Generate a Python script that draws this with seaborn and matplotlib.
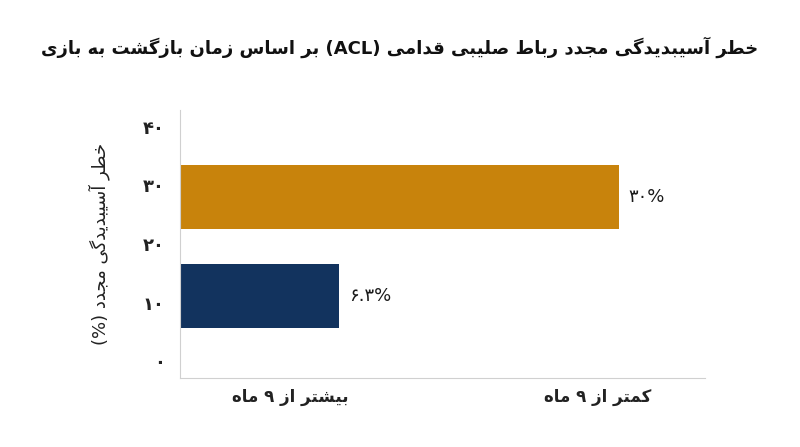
import re
import numpy as np
import pandas as pd
import matplotlib
matplotlib.use('Agg')
import matplotlib.pyplot as plt
import seaborn as sns

# data
categories = ['کمتر از ۹ ماه', 'بیشتر از ۹ ماه']
values = [30, 6.3]
value_labels = ['۳۰%', '۶.۳%']
bar_colors = ['#C8830C', '#12335E']
y_ticks = [0, 10, 20, 30, 40]
y_tick_labels = ['۰', '۱۰', '۲۰', '۳۰', '۴۰']
title = 'خطر آسیبدیدگی مجدد رباط صلیبی قدامی (ACL) بر اساس زمان بازگشت به بازی'
y_title = 'خطر آسیبدیدگی مجدد (%)'

# small persian shaper (matplotlib has no text shaping)
FORMS = {  # isolated, final, initial, medial
    'ا': ('\uFE8D', '\uFE8E', None, None),
    'آ': ('\uFE81', '\uFE82', None, None),
    'ب': ('\uFE8F', '\uFE90', '\uFE91', '\uFE92'),
    'ت': ('\uFE95', '\uFE96', '\uFE97', '\uFE98'),
    'ج': ('\uFE9D', '\uFE9E', '\uFE9F', '\uFEA0'),
    'خ': ('\uFEA5', '\uFEA6', '\uFEA7', '\uFEA8'),
    'د': ('\uFEA9', '\uFEAA', None, None),
    'ر': ('\uFEAD', '\uFEAE', None, None),
    'ز': ('\uFEAF', '\uFEB0', None, None),
    'س': ('\uFEB1', '\uFEB2', '\uFEB3', '\uFEB4'),
    'ش': ('\uFEB5', '\uFEB6', '\uFEB7', '\uFEB8'),
    'ص': ('\uFEB9', '\uFEBA', '\uFEBB', '\uFEBC'),
    'ط': ('\uFEC1', '\uFEC2', '\uFEC3', '\uFEC4'),
    'ق': ('\uFED5', '\uFED6', '\uFED7', '\uFED8'),
    'ل': ('\uFEDD', '\uFEDE', '\uFEDF', '\uFEE0'),
    'م': ('\uFEE1', '\uFEE2', '\uFEE3', '\uFEE4'),
    'ن': ('\uFEE5', '\uFEE6', '\uFEE7', '\uFEE8'),
    'ه': ('\uFEE9', '\uFEEA', '\uFEEB', '\uFEEC'),
    'و': ('\uFEED', '\uFEEE', None, None),
    'ی': ('\uFBFC', '\uFBFD', '\uFBFE', '\uFBFF'),
    'ک': ('\uFB8E', '\uFB8F', '\uFB90', '\uFB91'),
    'گ': ('\uFB92', '\uFB93', '\uFB94', '\uFB95'),
}
MIRROR = {'(': ')', ')': '('}


def shape(text):
    out = []
    for i, ch in enumerate(text):
        if ch not in FORMS:
            out.append(ch)
            continue
        prev = text[i - 1] if i > 0 else ''
        nxt = text[i + 1] if i < len(text) - 1 else ''
        join_prev = prev in FORMS and FORMS[prev][2] is not None
        join_next = FORMS[ch][2] is not None and nxt in FORMS
        iso, fin, ini, med = FORMS[ch]
        if join_prev and join_next:
            out.append(med)
        elif join_prev:
            out.append(fin)
        elif join_next:
            out.append(ini)
        else:
            out.append(iso)
    return ''.join(out)


def fa(text):
    s = shape(text)
    runs = re.findall(r'[A-Za-z0-9۰-۹.%]+|[^A-Za-z0-9۰-۹.%]+', s)
    res = []
    for r in reversed(runs):
        if re.match(r'[A-Za-z0-9۰-۹.%]', r):
            res.append(r)
        else:
            res.append(''.join(MIRROR.get(c, c) for c in reversed(r)))
    return ''.join(res)


plt.rcParams['font.family'] = ['DejaVu Sans']

df = pd.DataFrame({'category': categories, 'value': values})

fig = plt.figure(figsize=(8, 4.47), dpi=100)
ax = fig.add_axes([180 / 800, 1 - 378 / 447, 525 / 800, 268 / 447])

sns.barplot(data=df, x='value', y='category', hue='category', palette=bar_colors,
            orient='h', width=0.64, saturation=1, legend=False, ax=ax)

# power scale for the bar lengths
ax.set_xscale('function', functions=(lambda v: np.power(np.clip(v, 0, None), 0.65),
                                     lambda v: np.power(np.clip(v, 0, None), 1 / 0.65)))
ax.set_xlim(0, 39.5)
ax.set_ylim(1.828, -0.879)
ax.set_xticks([])
ax.set_yticks([])
ax.set_xlabel('')
ax.set_ylabel('')

for cont, lab in zip(ax.containers, value_labels):
    ax.bar_label(cont, labels=[lab], padding=7, fontsize=13, color='#1a1a1a')

for sp in ['top', 'right']:
    ax.spines[sp].set_visible(False)
ax.spines['left'].set_color('#d0d0d0')
ax.spines['bottom'].set_color('#d0d0d0')

# left value axis
ax2 = ax.twinx()
ax2.yaxis.tick_left()
ax2.yaxis.set_label_position('left')
ax2.set_ylim(-2.9, 42.9)
ax2.set_yticks(y_ticks)
ax2.set_yticklabels(y_tick_labels, fontsize=13, fontweight='bold', color='#222222')
ax2.tick_params(axis='y', length=0, pad=11)
for sp in ax2.spines.values():
    sp.set_visible(False)
ax2.set_ylabel(fa(y_title), fontsize=13, color='#222222', labelpad=24)

# category labels under the axis
for cat, xpos in zip(categories, [0.796, 0.21]):
    ax.text(xpos, -0.07, fa(cat), transform=ax.transAxes, ha='center', va='center',
            fontsize=12, fontweight='bold', color='#222222')

fig.text(0.5, 1 - 47 / 447, fa(title), ha='center', va='center',
         fontsize=13, fontweight='bold', color='#111111')

fig.savefig('out.png', dpi=100)
